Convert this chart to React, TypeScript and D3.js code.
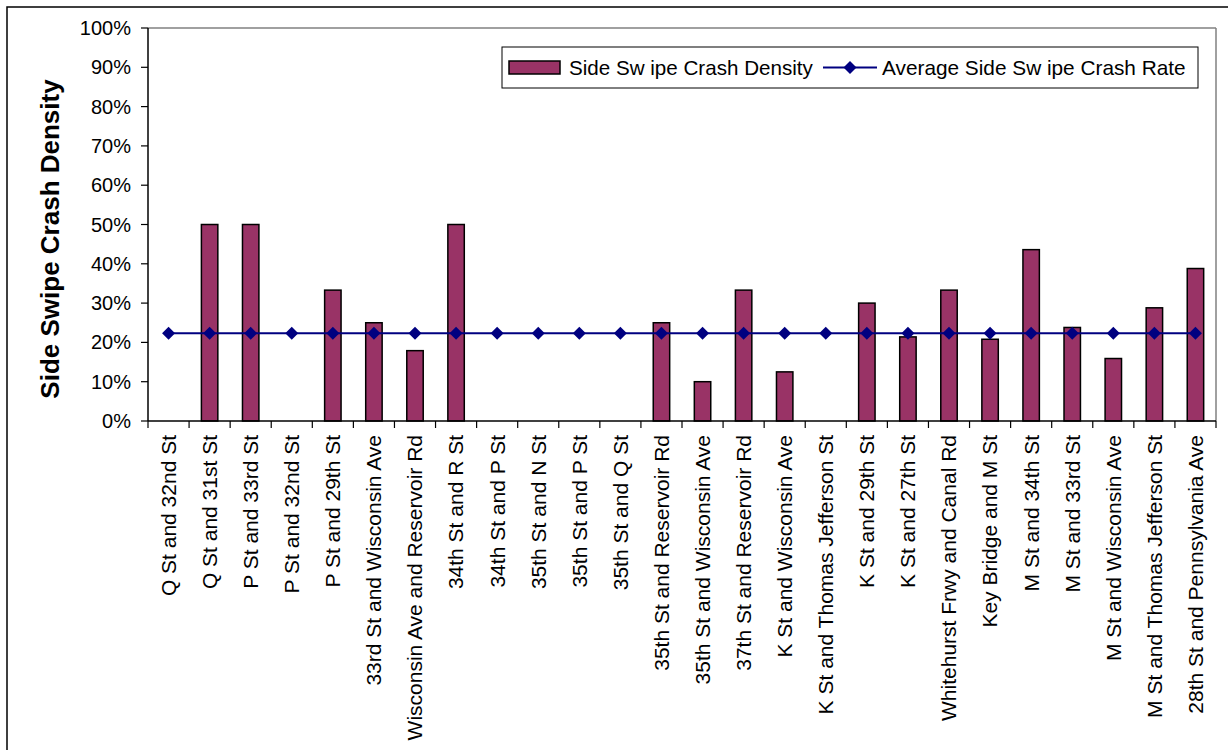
import React from "react";
import * as d3 from "d3";

const categories = [
  "Q St and 32nd St",
  "Q St and 31st St",
  "P St and 33rd St",
  "P St and 32nd St",
  "P St and 29th St",
  "33rd St and Wisconsin Ave",
  "Wisconsin Ave and Reservoir Rd",
  "34th St and R St",
  "34th St and P St",
  "35th St and N St",
  "35th St and P St",
  "35th St and Q St",
  "35th St and Reservoir Rd",
  "35th St and Wisconsin Ave",
  "37th St and Reservoir Rd",
  "K St and Wisconsin Ave",
  "K St and Thomas Jefferson St",
  "K St and 29th St",
  "K St and 27th St",
  "Whitehurst Frwy and Canal Rd",
  "Key Bridge and M St",
  "M St and 34th St",
  "M St and 33rd St",
  "M St and Wisconsin Ave",
  "M St and Thomas Jefferson St",
  "28th St and Pennsylvania Ave",
];

// Side swipe crash density per intersection
const densityValues = [
  0, 0.5, 0.5, 0, 0.333, 0.25, 0.179, 0.5, 0, 0, 0, 0, 0.25, 0.1, 0.333, 0.125,
  0, 0.3, 0.214, 0.333, 0.208, 0.436, 0.238, 0.159, 0.288, 0.388,
];

// Corridor-wide average side swipe crash rate
const averageRateValues = [
  0.223, 0.223, 0.223, 0.223, 0.223, 0.223, 0.223, 0.223, 0.223, 0.223, 0.223,
  0.223, 0.223, 0.223, 0.223, 0.223, 0.223, 0.223, 0.223, 0.223, 0.223, 0.223,
  0.223, 0.223, 0.223, 0.223,
];

const yTicks = [0, 0.1, 0.2, 0.3, 0.4, 0.5, 0.6, 0.7, 0.8, 0.9, 1.0];

const seriesNames = ["Side Sw ipe Crash Density", "Average Side Sw ipe Crash Rate"];
const yAxisTitle = "Side Swipe Crash Density";

const W = 1228;
const H = 750;
const plot = { left: 148, right: 1216, top: 28, bottom: 421 };
const FONT = "'Liberation Sans', Arial, Helvetica, sans-serif";
const BAR_FILL = "#993366";
const LINE_COLOR = "#000080";

function diamond(cx: number, cy: number, r: number) {
  return `M${cx},${cy - r}L${cx + r},${cy}L${cx},${cy + r}L${cx - r},${cy}Z`;
}

export default function App() {
  const x = d3.scaleBand<string>().domain(categories).range([plot.left, plot.right]).padding(0);
  const y = d3.scaleLinear().domain([0, 1]).range([plot.bottom, plot.top]);
  const step = x.step();
  const barW = step * 0.4;
  const fmt = d3.format(".0%");

  const linePath = d3
    .line<number>()
    .x((_, i) => (x(categories[i]) as number) + step / 2)
    .y((v) => y(v))(averageRateValues) as string;

  const boundaries = d3.range(categories.length + 1).map((i) => plot.left + i * step);

  const legend = { x: 502, y: 47, w: 696, h: 41 };
  const legendMid = legend.y + legend.h / 2;

  return (
    <svg
      width={W}
      height={H}
      style={{ position: "absolute", left: 0, top: 0, background: "#fff" }}
      fontFamily={FONT}
    >
      {/* outer chart frame */}
      <rect x={7} y={7} width={W + 20} height={H + 20} fill="#fff" stroke="#000" strokeWidth={1.5} />

      {/* plot area frame (top & right) */}
      <line x1={plot.left} x2={plot.right} y1={plot.top} y2={plot.top} stroke="#808080" strokeWidth={1.5} />
      <line x1={plot.right} x2={plot.right} y1={plot.top} y2={plot.bottom} stroke="#808080" strokeWidth={1.5} />

      {/* bars */}
      {densityValues.map((v, i) =>
        v > 0 ? (
          <rect
            key={categories[i]}
            x={(x(categories[i]) as number) + (step - barW) / 2}
            y={y(v)}
            width={barW}
            height={y(0) - y(v)}
            fill={BAR_FILL}
            stroke="#000"
            strokeWidth={1.5}
          />
        ) : null
      )}

      {/* average rate line */}
      <path d={linePath} fill="none" stroke={LINE_COLOR} strokeWidth={2} />
      {averageRateValues.map((v, i) => (
        <path
          key={i}
          d={diamond((x(categories[i]) as number) + step / 2, y(v), 6.5)}
          fill={LINE_COLOR}
        />
      ))}

      {/* y axis */}
      <line x1={plot.left} x2={plot.left} y1={plot.top} y2={plot.bottom} stroke="#000" strokeWidth={1.5} />
      {yTicks.map((t) => (
        <g key={t}>
          <line x1={plot.left - 7} x2={plot.left} y1={y(t)} y2={y(t)} stroke="#000" strokeWidth={1.2} />
          <text x={131} y={y(t)} dy="0.35em" textAnchor="end" fontSize={20} fill="#000">
            {fmt(t)}
          </text>
        </g>
      ))}

      {/* x axis */}
      <line x1={plot.left} x2={plot.right} y1={plot.bottom} y2={plot.bottom} stroke="#000" strokeWidth={1.5} />
      {boundaries.map((bx, i) => (
        <line key={i} x1={bx} x2={bx} y1={plot.bottom} y2={plot.bottom + 7} stroke="#000" strokeWidth={1.2} />
      ))}
      {categories.map((c) => {
        const cx = (x(c) as number) + step / 2;
        return (
          <text
            key={c}
            transform={`translate(${cx},435) rotate(-90)`}
            dy="0.35em"
            textAnchor="end"
            fontSize={21}
            fill="#000"
          >
            {c}
          </text>
        );
      })}

      {/* y axis title */}
      <text
        transform={`translate(50,${(75 + 403) / 2}) rotate(-90)`}
        dy="0.35em"
        textAnchor="middle"
        fontSize={26}
        fontWeight="bold"
        fill="#000"
      >
        {yAxisTitle}
      </text>

      {/* legend */}
      <rect x={legend.x} y={legend.y} width={legend.w} height={legend.h} fill="#fff" stroke="#000" strokeWidth={1} />
      <rect x={509} y={legendMid - 6.5} width={51} height={13} fill={BAR_FILL} stroke="#000" strokeWidth={1.5} />
      <text x={569} y={legendMid} dy="0.35em" fontSize={20.6} fill="#000">
        {seriesNames[0]}
      </text>
      <line x1={823} x2={877} y1={legendMid} y2={legendMid} stroke={LINE_COLOR} strokeWidth={2} />
      <path d={diamond(850, legendMid, 6.5)} fill={LINE_COLOR} />
      <text x={882} y={legendMid} dy="0.35em" fontSize={20.8} fill="#000">
        {seriesNames[1]}
      </text>
    </svg>
  );
}
